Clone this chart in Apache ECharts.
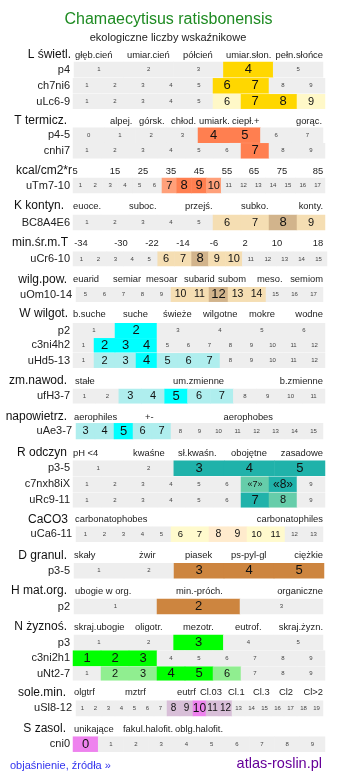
<!DOCTYPE html>
<html><head><meta charset="utf-8">
<script src="https://cdn.jsdelivr.net/npm/echarts@6/dist/echarts.min.js"></script>
<style>html,body{margin:0;padding:0;background:#fff}#c{width:337px;height:781px}</style>
</head><body><div id="c"></div>
<script>
// ================= DATA =================
const titleText = 'Chamaecytisus ratisbonensis';
const subtitleText = 'ekologiczne liczby wskaźnikowe';
const linkText = 'objaśnienie, źródła »';
const siteText = 'atlas-roslin.pl';

const sectionNames = ['L świetl.','T termicz.','kcal/cm2*r','K kontyn.','min.śr.m.T','wilg.pow.','W wilgot.','zm.nawod.','napowietrz.','R odczyn','CaCO3','D granul.','H mat.org.','N żyznoś.','sole.min.','S zasol.'];

const ticksL = ['głęb.cień','umiar.cień','półcień','umiar.słon.','pełn.słońce'];
const ticksT = ['alpej.','górsk.','chłod.','umiark.','ciepł.+','gorąc.'];
const ticksKcal = ['5','15','25','35','45','55','65','75','85'];
const ticksK = ['euoce.','suboc.','przejś.','subko.','konty.'];
const ticksMin = ['-34','-30','-22','-14','-6','2','10','18'];
const ticksWilg = ['euarid','semiar','mesoar','subarid','subom','meso.','semiom'];
const ticksW = ['b.suche','suche','świeże','wilgotne','mokre','wodne'];
const ticksZm = ['stałe','um.zmienne','b.zmienne'];
const ticksNap = ['aerophiles','+-','aerophobes'];
const ticksR = ['pH <4','kwaśne','sł.kwaśn.','obojętne','zasadowe'];
const ticksCa = ['carbonatophobes','carbonatophiles'];
const ticksD = ['skały','żwir','piasek','ps-pyl-gl','ciężkie'];
const ticksH = ['ubogie w org.','min.-próch.','organiczne'];
const ticksN = ['skraj.ubogie','oligotr.','mezotr.','eutrof.','skraj.żyzn.'];
const ticksSole = ['olgtrf','mztrf','eutrf','Cl.03','Cl.1','Cl.3','Cl2','Cl>2'];
const ticksS = ['unikające','fakul.halofit.','oblg.halofit.'];
const sectionTicks = [ticksL,ticksT,ticksKcal,ticksK,ticksMin,ticksWilg,ticksW,ticksZm,ticksNap,ticksR,ticksCa,ticksD,ticksH,ticksN,ticksSole,ticksS];

const rowNames = ['p4','ch7ni6','uLc6-9','p4-5','cnhi7','uTm7-10','BC8A4E6','uCr6-10','uOm10-14','p2','c3ni4h2','uHd5-13','ufH3-7','uAe3-7','p3-5','c7nxh8iX','uRc9-11','uCa6-11','p3-5','p2','p3','c3ni2h1','uNt2-7','uSl8-12','cni0'];
const rowSection = [0,0,0,1,1,2,3,4,5,6,6,6,7,8,9,9,9,10,11,12,13,13,13,14,15];

const rowCells = [
  ['1','2','3','4','5'],
  ['1','2','3','4','5','6','7','8','9'],
  ['1','2','3','4','5','6','7','8','9'],
  ['0','1','2','3','4','5','6','7'],
  ['1','2','3','4','5','6','7','8','9'],
  ['1','2','3','4','5','6','7','8','9','10','11','12','13','14','15','16','17'],
  ['1','2','3','4','5','6','7','8','9'],
  ['1','2','3','4','5','6','7','8','9','10','11','12','13','14','15'],
  ['5','6','7','8','9','10','11','12','13','14','15','16','17'],
  ['1','2','3','4','5','6'],
  ['1','2','3','4','5','6','7','8','9','10','11','12'],
  ['1','2','3','4','5','6','7','8','9','10','11','12'],
  ['1','2','3','4','5','6','7','8','9','10','11'],
  ['3','4','5','6','7','8','9','10','11','12','13','14','15'],
  ['1','2','3','4','5'],
  ['1','2','3','4','5','6','«7»','«8»','9'],
  ['1','2','3','4','5','6','7','8','9'],
  ['1','2','3','4','5','6','7','8','9','10','11','12','13'],
  ['1','2','3','4','5'],
  ['1','2','3'],
  ['1','2','3','4','5'],
  ['1','2','3','4','5','6','7','8','9'],
  ['1','2','3','4','5','6','7','8','9'],
  ['1','2','3','4','5','6','7','8','9','10','11','12','13','14','15','16','17','18','19'],
  ['0','1','2','3','4','5','6','7','8','9']
];
// 0 = not indicated, 1 = weak, 2 = strong
const rowLevels = [
  [0,0,0,2,0],
  [0,0,0,0,0,2,2,0,0],
  [0,0,0,0,0,1,2,2,1],
  [0,0,0,0,2,2,0,0],
  [0,0,0,0,0,0,2,0,0],
  [0,0,0,0,0,0,1,2,2,1,0,0,0,0,0,0,0],
  [0,0,0,0,0,1,1,2,1],
  [0,0,0,0,0,1,1,2,1,1,0,0,0,0,0],
  [0,0,0,0,0,1,1,2,1,1,0,0,0],
  [0,2,0,0,0,0],
  [0,2,2,2,0,0,0,0,0,0,0,0],
  [0,1,1,2,1,1,1,0,0,0,0,0],
  [0,0,1,1,2,1,1,0,0,0,0],
  [1,1,2,1,1,0,0,0,0,0,0,0,0],
  [0,0,2,2,2],
  [0,0,0,0,0,0,1,2,0],
  [0,0,0,0,0,0,2,1,0],
  [0,0,0,0,0,1,1,2,2,1,1,0,0],
  [0,0,2,2,2],
  [0,2,0],
  [0,0,2,0,0],
  [2,2,2,0,0,0,0,0,0],
  [0,1,1,2,2,1,0,0,0],
  [0,0,0,0,0,0,0,1,1,2,1,1,0,0,0,0,0,0,0],
  [2,0,0,0,0,0,0,0,0,0]
];

// ================= STYLE / LAYOUT =================
const FONT = '"Liberation Sans", Arial, Helvetica, sans-serif';
const GRAY = '#eeeeee';
const sectionColors = [
  ['#fff8c8','#ffd700'], ['#ffa07a','#ff7f50'], ['#ffa07a','#ff7f50'], ['#f5deb3','#d2b48c'],
  ['#f5deb3','#d2b48c'], ['#f5deb3','#d2b48c'], ['#afeeee','#00ffff'], ['#afeeee','#00ffff'],
  ['#afeeee','#00ffff'], ['#66cdaa','#20b2aa'], ['#fffacd','#ffebcd'], ['#cd853f','#cd853f'],
  ['#cd853f','#cd853f'], ['#90ee90','#00ff00'], ['#d8bfd8','#ee82ee'], ['#ee82ee','#ee82ee']
];
const sectionY = [55,121,171,206,243,279.5,314,381,417,453,519.5,555.5,591,627,692.5,729];
const sectionRight = [71,67,72,64,68,67,68,67,67,67,68,67,67,67,66,66];
// [x, align]
const tickPos = [
  [[75,'left'],[127,'left'],[183,'left'],[226,'left'],[323,'right']],
  [[110,'left'],[139,'left'],[171,'left'],[199,'left'],[232,'left'],[322,'right']],
  [[75,'center'],[115,'center'],[143,'center'],[171,'center'],[199,'center'],[227,'center'],[254,'center'],[282,'center'],[318,'center']],
  [[73,'left'],[129,'left'],[185,'left'],[241,'left'],[323,'right']],
  [[81,'center'],[121,'center'],[152,'center'],[183,'center'],[214,'center'],[245,'center'],[277,'center'],[318,'center']],
  [[73,'left'],[113,'left'],[146,'left'],[184,'left'],[218,'left'],[257,'left'],[323,'right']],
  [[73,'left'],[123,'left'],[163,'left'],[203,'left'],[249,'left'],[323,'right']],
  [[75,'left'],[173,'left'],[323,'right']],
  [[74,'left'],[145,'left'],[273,'right']],
  [[73,'left'],[133,'left'],[178,'left'],[231,'left'],[323,'right']],
  [[75,'left'],[323,'right']],
  [[74,'left'],[139,'left'],[185,'left'],[231,'left'],[323,'right']],
  [[75,'left'],[176,'left'],[323,'right']],
  [[74,'left'],[135,'left'],[183,'left'],[235,'left'],[323,'right']],
  [[74,'left'],[125,'left'],[177,'left'],[200,'left'],[228,'left'],[253,'left'],[279,'left'],[323,'right']],
  [[74,'left'],[123,'left'],[223,'right']]
];
// [top, bottom, left, right]
const rowBox = [
  [62,77.3,74,323],[78.3,93.3,73,325],[94.3,108.7,73,325],
  [127.7,142.7,73,323],[143.3,158.3,73,325],
  [178,193,73,325],
  [215,230,73,325],
  [251.7,266,73,327],
  [287.3,301.7,76,323],
  [323.3,337.7,73,325],[338.3,352.3,73,325],[353.3,367.7,73,325],
  [389,403.3,73,325],
  [423.3,439,76,323],
  [460.7,475.7,73,325],[476.7,491.7,73,325],[492.7,507.3,73,325],
  [526.7,541.7,76,323],
  [563.3,578.3,74,324],
  [599,614,74,323],
  [635,650,74,323],[650.7,666,73,325],[666.7,680.3,73,325],
  [700.7,716,76,323],
  [736.7,751.7,73,325]
];
// [weak, strong] label font sizes
const rowFont = {5:[11,13],8:[10.5,13],15:[9,12],17:[9.5,10.5],23:[10,12]};

// ================= BUILD =================
const grids = [], xAxes = [], yAxes = [], series = [], graphic = [];

graphic.push({type:'text', silent:true, style:{x:168.5, y:20, text:titleText, fill:'#1e8b22', fontSize:16, fontFamily:FONT, align:'center', verticalAlign:'middle'}});
graphic.push({type:'text', silent:true, style:{x:168, y:38, text:subtitleText, fill:'#222', fontSize:11, fontFamily:FONT, align:'center', verticalAlign:'middle'}});
graphic.push({type:'text', silent:true, style:{x:10, y:766, text:linkText, fill:'#3333ee', fontSize:11, fontFamily:FONT, align:'left', verticalAlign:'middle'}});
graphic.push({type:'text', silent:true, style:{x:322, y:764, text:siteText, fill:'#660099', fontSize:14.5, fontFamily:FONT, align:'right', verticalAlign:'middle'}});

sectionNames.forEach((nm, s) => {
  graphic.push({type:'text', silent:true, style:{x:sectionRight[s], y:sectionY[s], text:nm, fill:'#111', fontSize:12, fontFamily:FONT, align:'right', verticalAlign:'middle'}});
  sectionTicks[s].forEach((t, i) => {
    const p = tickPos[s][i];
    graphic.push({type:'text', silent:true, style:{x:p[0], y:sectionY[s], text:t, fill:'#222', fontSize:9.4, fontFamily:FONT, align:p[1], verticalAlign:'middle'}});
  });
});

rowNames.forEach((nm, r) => {
  const b = rowBox[r];
  const labelRight = b[2] >= 76 ? 72 : 70;
  grids.push({left:b[2], top:b[0], width:b[3]-b[2], height:b[1]-b[0], containLabel:false, outerBoundsMode:'none'});
  xAxes.push({gridIndex:r, type:'category', data:rowCells[r], show:false});
  yAxes.push({gridIndex:r, type:'category', data:[nm], axisLine:{show:false}, axisTick:{show:false}, splitLine:{show:false},
    axisLabel:{fontSize:11, color:'#222', margin:b[2]-labelRight, fontFamily:FONT}});
  const col = sectionColors[rowSection[r]];
  const fs = rowFont[r] || [11,13];
  const cells = rowCells[r];
  series.push({
    type:'heatmap', xAxisIndex:r, yAxisIndex:r, silent:true,
    label:{show:true, fontFamily:FONT, formatter:(p) => cells[p.value[0]]},
    data: cells.map((c, i) => {
      const lv = rowLevels[r][i];
      return {value:[i,0,lv],
        itemStyle:{color: lv === 0 ? GRAY : col[lv-1]},
        label:{fontSize: lv === 0 ? 6 : fs[lv-1], color: lv === 0 ? '#444' : '#111'}};
    })
  });
});

const chart = echarts.init(document.getElementById('c'), null, {renderer:'canvas'});
chart.setOption({
  animation:false,
  textStyle:{fontFamily:FONT},
  grid:grids, xAxis:xAxes, yAxis:yAxes, series:series, graphic:graphic
});
</script>
</body></html>
